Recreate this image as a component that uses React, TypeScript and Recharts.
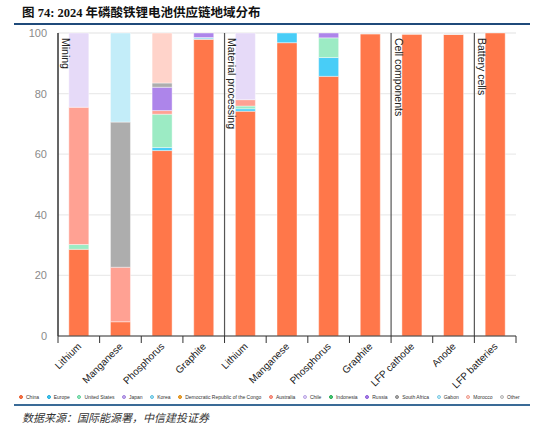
import { BarChart, Bar, XAxis, YAxis, CartesianGrid, ReferenceLine } from 'recharts';

// categories along the x axis, grouped by supply-chain stage
const CATEGORIES = ['Lithium', 'Manganese', 'Phosphorus', 'Graphite', 'Lithium', 'Manganese', 'Phosphorus', 'Graphite', 'LFP cathode', 'Anode', 'LFP batteries'];
const STAGES = ['Mining', 'Mining', 'Mining', 'Mining', 'Material processing', 'Material processing', 'Material processing', 'Material processing', 'Cell components', 'Cell components', 'Battery cells'];
const Y_TICKS = [0, 20, 40, 60, 80, 100];

// share of each region, % (stack order bottom -> top)
const CHINA = [28.6, 4.7, 61.2, 97.9, 74.2, 96.8, 85.7, 99.7, 99.6, 99.5, 100];
const EUROPE = [0, 0, 1.0, 0, 0.8, 3.2, 6.2, 0, 0, 0, 0];
const UNITED_STATES = [1.6, 0, 11.0, 0, 0.9, 0, 6.5, 0, 0, 0, 0];
const JAPAN = [0, 0, 0, 0, 0, 0, 0, 0, 0, 0, 0];
const KOREA = [0, 0, 0, 0.6, 0, 0, 0, 0, 0, 0, 0];
const DRC = [0, 0, 0, 0, 0, 0, 0, 0, 0, 0, 0];
const AUSTRALIA = [45.3, 18.0, 1.2, 0, 2.1, 0, 0, 0, 0, 0, 0];
const CHILE = [24.5, 0, 0, 0, 22.0, 0, 0, 0, 0, 0, 0];
const INDONESIA = [0, 0, 0, 0, 0, 0, 0, 0, 0, 0, 0];
const RUSSIA = [0, 0, 7.7, 1.5, 0, 0, 1.6, 0, 0, 0, 0];
const SOUTH_AFRICA = [0, 47.9, 1.4, 0, 0, 0, 0, 0, 0, 0, 0];
const GABON = [0, 29.4, 0, 0, 0, 0, 0, 0, 0, 0, 0];
const MOROCCO = [0, 0, 16.5, 0, 0, 0, 0, 0, 0, 0, 0];
const OTHER = [0, 0, 0, 0, 0, 0, 0, 0.3, 0.4, 0.5, 0];

const SERIES = [
  { name: 'China', values: CHINA, color: '#ff774a', edge: '#e85a2c' },
  { name: 'Europe', values: EUROPE, color: '#48cdf7', edge: '#1aa8d8' },
  { name: 'United States', values: UNITED_STATES, color: '#9cebc4', edge: '#5fcf98' },
  { name: 'Japan', values: JAPAN, color: '#c8b2ee', edge: '#a07fdc' },
  { name: 'Korea', values: KOREA, color: '#a8e2f3', edge: '#5ec0e0' },
  { name: 'Democratic Republic of the Congo', values: DRC, color: '#f5a93a', edge: '#d98a10' },
  { name: 'Australia', values: AUSTRALIA, color: '#ffa193', edge: '#f07a68' },
  { name: 'Chile', values: CHILE, color: '#e6daf8', edge: '#b8a2e4' },
  { name: 'Indonesia', values: INDONESIA, color: '#4fd07a', edge: '#22a850' },
  { name: 'Russia', values: RUSSIA, color: '#ad85ea', edge: '#8a5ad8' },
  { name: 'South Africa', values: SOUTH_AFRICA, color: '#adadad', edge: '#888888' },
  { name: 'Gabon', values: GABON, color: '#c3edf9', edge: '#7cc9e3' },
  { name: 'Morocco', values: MOROCCO, color: '#ffd3ca', edge: '#ee9c8e' },
  { name: 'Other', values: OTHER, color: '#e6e6e6', edge: '#b5b5b5' },
];

const KEYS = CATEGORIES.map((c, i) => `${STAGES[i]}|${c}`);

const data = KEYS.map((key, i) => {
  const row: Record<string, string | number> = { key };
  SERIES.forEach(s => { row[s.name] = s.values[i]; });
  return row;
});

const SANS = 'Arial, "Liberation Sans", Helvetica, sans-serif';

function XTick(props: any) {
  const { x, y, payload, index } = props;
  const half = payload?.offset || 20.8;
  const label = String(payload.value).split('|')[1];
  return (
    <g>
      <line x1={x - half} x2={x - half} y1={y} y2={y + 7} stroke="#333" strokeWidth={1} />
      {index === KEYS.length - 1 && (
        <line x1={x + half} x2={x + half} y1={y} y2={y + 7} stroke="#333" strokeWidth={1} />
      )}
      <text
        x={x + 3}
        y={y + 11}
        textAnchor="end"
        fontSize={10}
        fontFamily={SANS}
        fill="#222"
        transform={`rotate(-45, ${x + 3}, ${y + 11})`}
      >
        {label}
      </text>
    </g>
  );
}

function StageLabel(props: any) {
  const { viewBox, text } = props;
  if (!viewBox) return null;
  const tx = viewBox.x + 3.5;
  const ty = viewBox.y + 5;
  return (
    <text x={tx} y={ty} fontSize={10.5} fontFamily={SANS} fill="#222" transform={`rotate(90, ${tx}, ${ty})`}>
      {text}
    </text>
  );
}

// boundaries where a new stage starts
const STAGE_STARTS = KEYS.filter((_, i) => i === 0 || STAGES[i] !== STAGES[i - 1]);

export default function App() {
  return (
    <div style={{ position: 'absolute', left: 0, top: 0, width: 550, height: 431, background: '#fff', overflow: 'hidden' }}>
      <div
        style={{
          position: 'absolute', left: 22, top: 5, fontSize: 12.5, lineHeight: '16px', fontWeight: 'bold',
          fontFamily: '"Liberation Serif", "Times New Roman", "Noto Sans CJK SC", serif', color: '#111', whiteSpace: 'nowrap',
        }}
      >
        图 74: 2024 年磷酸铁锂电池供应链地域分布
      </div>
      <div style={{ position: 'absolute', left: 14, top: 23, width: 516, height: 2, background: '#1f4a7a' }} />

      <div style={{ position: 'absolute', left: 0, top: 0 }}>
        <BarChart width={550} height={431} data={data} margin={{ top: 33, right: 34, left: 0, bottom: 35 }} barCategoryGap="26%">
          <CartesianGrid vertical={false} stroke="#ebebeb" strokeWidth={1.2} />
          <XAxis
            dataKey="key"
            interval={0}
            height={60}
            tickLine={false}
            tickSize={0}
            tickMargin={0}
            axisLine={{ stroke: '#333', strokeWidth: 1 }}
            tick={<XTick />}
          />
          <YAxis
            width={58}
            domain={[0, 100]}
            ticks={Y_TICKS}
            tickLine={false}
            tickSize={0}
            tickMargin={11}
            axisLine={{ stroke: '#333', strokeWidth: 1 }}
            tick={{ fill: '#8a8a8a', fontSize: 11, fontFamily: SANS }}
          />
          {SERIES.map(s => (
            <Bar
              key={s.name}
              dataKey={s.name}
              stackId="a"
              fill={s.color}
              stroke="#ffffff"
              strokeOpacity={0.7}
              strokeWidth={0.6}
              isAnimationActive={false}
            />
          ))}
          {STAGE_STARTS.map(k => (
            <ReferenceLine
              key={k}
              x={k}
              position="start"
              stroke="#555"
              strokeWidth={1.2}
              label={<StageLabel text={k.split('|')[0]} />}
            />
          ))}
        </BarChart>
      </div>

      <div
        style={{
          position: 'absolute', left: 19, top: 394, display: 'flex', alignItems: 'center', columnGap: 7.6,
          fontSize: 5, fontFamily: SANS, color: '#333', whiteSpace: 'nowrap',
        }}
      >
        {SERIES.map(s => (
          <div key={s.name} style={{ display: 'flex', alignItems: 'center' }}>
            <span
              style={{
                display: 'inline-block', width: 4, height: 4, borderRadius: '50%', background: s.color,
                border: `0.7px solid ${s.edge}`, boxSizing: 'border-box', marginRight: 3,
              }}
            />
            <span>{s.name}</span>
          </div>
        ))}
      </div>

      <div style={{ position: 'absolute', left: 14, top: 404, width: 516, height: 2, background: '#3a6b97' }} />
      <div
        style={{
          position: 'absolute', left: 22, top: 409, fontSize: 11, lineHeight: '16px', fontStyle: 'italic',
          fontFamily: '"Noto Sans CJK SC", sans-serif', color: '#333', whiteSpace: 'nowrap',
        }}
      >
        数据来源：国际能源署，中信建投证券
      </div>
    </div>
  );
}
